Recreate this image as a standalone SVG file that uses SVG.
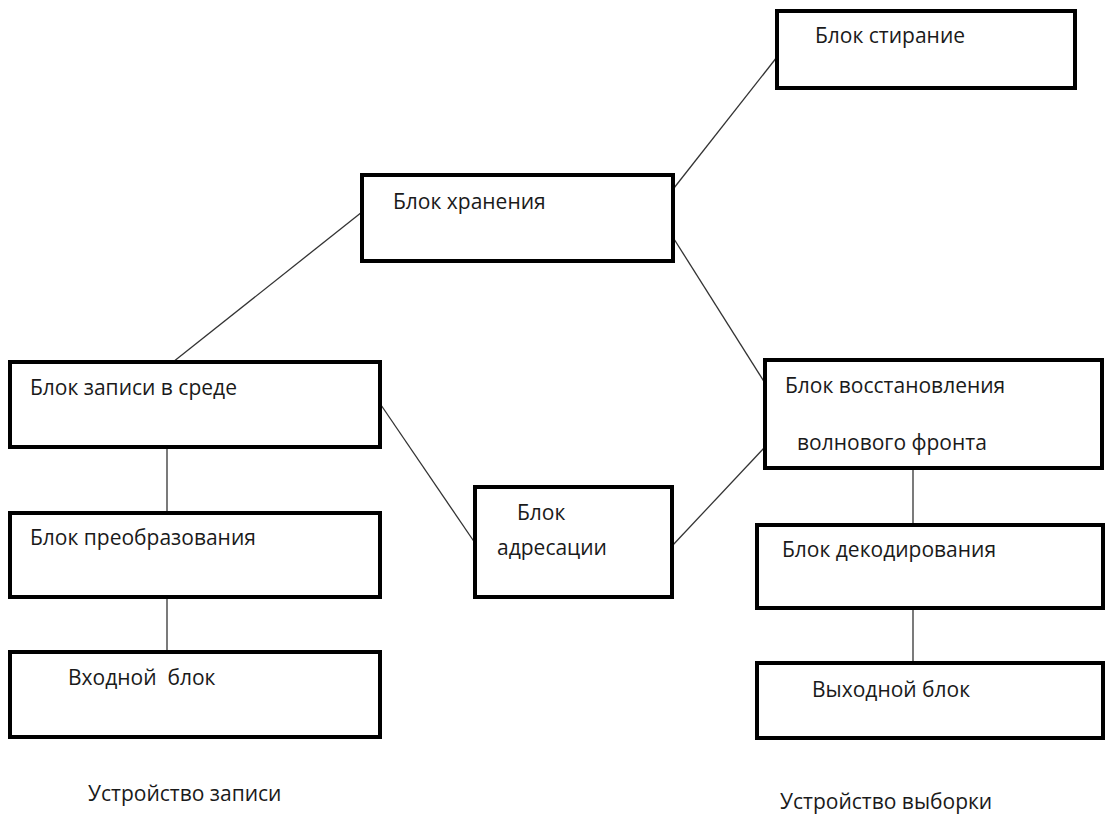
<svg xmlns="http://www.w3.org/2000/svg" width="1105" height="816" viewBox="0 0 1105 816">
<style>
.box{fill:#fff;stroke:#000;stroke-width:4}
.t{font-family:"Open Sans",Lato,sans-serif;font-size:21px;fill:#1a1a1a}
.c line{stroke:#333;stroke-width:1.3}
</style>
<rect width="1105" height="816" fill="#fff"/>
<g class="c" id="connectors">
<line x1="777" y1="57" x2="674" y2="188"/>
<line x1="362" y1="212" x2="173" y2="362"/>
<line x1="674" y1="239" x2="765" y2="383"/>
<line x1="381" y1="405" x2="475" y2="543"/>
<line x1="672" y1="546" x2="765" y2="447"/>
<line x1="167" y1="447" x2="167" y2="513"/>
<line x1="167" y1="597" x2="167" y2="652"/>
<line x1="913" y1="468" x2="913" y2="525"/>
<line x1="913" y1="608" x2="913" y2="663"/>
</g>
<g id="n-stiranie"><rect class="box" x="777" y="11" width="298" height="77"/><text class="t" x="815" y="43">Блок стирание</text></g>
<g id="n-hranenie"><rect class="box" x="362" y="175" width="311" height="86"/><text class="t" x="393" y="209">Блок хранения</text></g>
<g id="n-zapis"><rect class="box" x="10" y="362" width="370" height="85"/><text class="t" x="30" y="395">Блок записи в среде</text></g>
<g id="n-preobr"><rect class="box" x="10" y="513" width="370" height="84"/><text class="t" x="30" y="545">Блок преобразования</text></g>
<g id="n-vhod"><rect class="box" x="10" y="652" width="370" height="85"/><text class="t" x="68" y="685" xml:space="preserve">Входной  блок</text></g>
<g id="n-adres"><rect class="box" x="475" y="487" width="197" height="110"/><text class="t" x="517" y="520">Блок</text><text class="t" x="497" y="555">адресации</text></g>
<g id="n-vosst"><rect class="box" x="765" y="360" width="337" height="108"/><text class="t" x="785" y="393">Блок восстановления</text><text class="t" x="797" y="450">волнового фронта</text></g>
<g id="n-dekod"><rect class="box" x="757" y="525" width="346" height="83"/><text class="t" x="782" y="557">Блок декодирования</text></g>
<g id="n-vyhod"><rect class="box" x="757" y="663" width="346" height="75"/><text class="t" x="812" y="697">Выходной блок</text></g>
<g id="labels">
<text class="t" x="88" y="801">Устройство записи</text>
<text class="t" x="780" y="809">Устройство выборки</text>
</g>
</svg>
